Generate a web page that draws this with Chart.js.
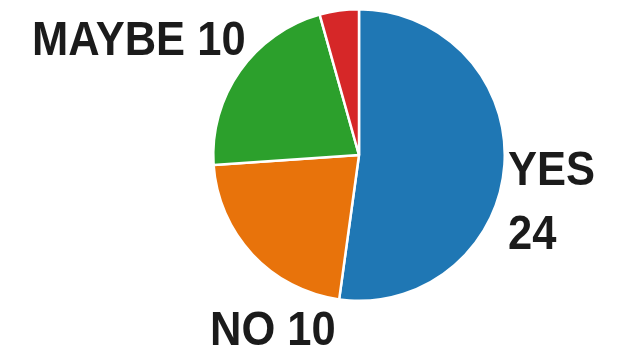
<!DOCTYPE html>
<html>
<head>
<meta charset="utf-8">
<script src="https://cdn.jsdelivr.net/npm/chart.js@4"></script>
<style>
  html, body { margin: 0; padding: 0; background: #ffffff; }
  #wrap { width: 632px; height: 352px; position: relative; }
</style>
</head>
<body>
<div id="wrap"><canvas id="c" width="632" height="352"></canvas></div>
<script>
const categories = ["YES", "NO", "MAYBE", "OTHER"];
const values = [24, 10, 10, 2];
const sliceColors = ["#1f77b4", "#e8730b", "#2ca02c", "#d62728"];
const labelTexts = [["YES", "24"], ["NO 10"], ["MAYBE 10"], []];

function drawLabel(ctx, text, x, y) {
  ctx.save();
  ctx.translate(x, y);
  ctx.scale(1, 1.12);
  ctx.fillText(text, 0, 0);
  ctx.restore();
}

const labelPlugin = {
  id: "labelPlugin",
  afterDraw(chart) {
    const ctx = chart.ctx;
    ctx.save();
    ctx.fillStyle = "#1b1b1b";
    ctx.font = 'bold 43.5px "Liberation Sans", Arial, sans-serif';
    ctx.textBaseline = "alphabetic";
    ctx.textAlign = "left";
    drawLabel(ctx, labelTexts[0][0], 508, 185);
    drawLabel(ctx, labelTexts[0][1], 508, 249);
    drawLabel(ctx, labelTexts[1][0], 210, 345);
    drawLabel(ctx, labelTexts[2][0], 32, 55);
    ctx.restore();
  }
};

new Chart(document.getElementById("c"), {
  type: "pie",
  data: {
    labels: categories,
    datasets: [{
      data: values,
      backgroundColor: sliceColors,
      borderColor: "#ffffff",
      borderWidth: 2.5
    }]
  },
  options: {
    responsive: false,
    animation: false,
    layout: { padding: { left: 212, right: 126, top: 8, bottom: 50 } },
    plugins: {
      legend: { display: false },
      tooltip: { enabled: false }
    }
  },
  plugins: [labelPlugin]
});
</script>
</body>
</html>
